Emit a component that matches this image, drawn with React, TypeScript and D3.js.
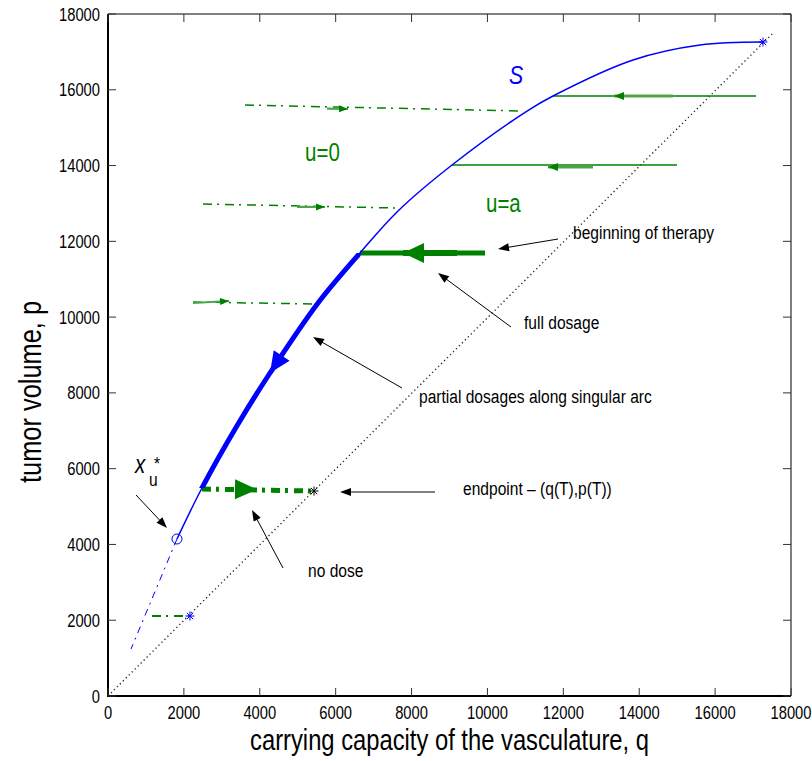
import { useEffect, useRef } from 'react'
import * as d3 from 'd3'

// singular arc S, (q, p)
const arcQ = [1818, 2477, 3400, 4269, 5535, 6641, 7643, 9066, 11043, 11728, 13836, 15602, 17262]
const arcP = [4144, 5490, 7133, 8525, 10372, 11692, 12800, 14014, 15439, 15836, 16786, 17182, 17261]
const thickFrom = 1
const thickTo = 5

// S continued below x_u*
const extQ = [1818, 606]
const extP = [4144, 1240]

// diagonal p = q
const diagQ = [0, 17530]
const diagP = [0, 17500]

// u = 0 trajectories (dash-dot)
const zeroQ0 = [3610, 2504, 2240]
const zeroP0 = [15598, 12985, 10399]
const zeroQ1 = [10860, 7600, 5403]
const zeroP1 = [15440, 12880, 10346]
const zeroShaftQ = [5772, 4981, 2240]
const zeroShaftP = [15500, 12910, 10372]
const zeroTipQ = [6325, 5719, 3189]
const zeroTipP = [15493, 12906, 10425]

// u = a trajectories (solid)
const aQ0 = [11728, 9066, 6641]
const aQ1 = [17078, 14996, 9936]
const aP = [15836, 14014, 11692]
const aTipQ = [13336, 11596, 7775]
const aTipP = [15836, 13962, 11692]
const aShaftQ = [14891, 12782, 9198]

// final no-dose piece and the one near the bottom
const endQ = [2477, 5430]
const endP = [5463, 5410]
const endTip = [3927, 5450]
const lowQ = [1160, 2161]
const lowP = [2111, 2111]

// markers
const xStar = [1818, 4144]
const blueStars = [[17262, 17261], [2161, 2111]]
const blackStar = [5430, 5410]

// arrow on S
const sArrowFrom = [4586, 9000]
const sArrowTo = [4269, 8525]

// annotations
const notes = ['beginning of therapy', 'full dosage', 'partial dosages along singular arc', 'endpoint – (q(T),p(T))', 'no dose']
const noteQ = [12255, 10964, 8196, 9356, 5271]
const noteP = [12061, 9686, 7733, 5305, 3141]
const pointFromQ = [11860, 10621, 7748, 8618, 4612, 738]
const pointFromP = [12061, 9739, 8129, 5384, 3378, 5305]
const pointToQ = [10278, 8697, 5403, 6114, 3795, 1555]
const pointToP = [11798, 11164, 9475, 5384, 4909, 4434]

const ticks = d3.range(0, 18001, 2000)

const GREEN = '#008000'
const LIGHT = '#4da64d'
const BLUE = '#0000ff'
const FONT = 'Liberation Sans, Arial, sans-serif'

export default function App() {
  const svgRef = useRef<SVGSVGElement>(null)

  useEffect(() => {
    const width = 812, height = 761
    const svg = d3.select(svgRef.current)
    svg.selectAll('*').remove()
    svg.attr('width', width).attr('height', height).style('background', '#fff')

    const x = d3.scaleLinear().domain([0, 18000]).range([108, 791])
    const y = d3.scaleLinear().domain([0, 18000]).range([696, 14])

    const ntext = (px: number, py: number, str: string, size: number, fill = '#000', anchor = 'start', rot = 0) =>
      svg.append('text')
        .attr('transform', `translate(${px},${py}) rotate(${rot}) scale(0.82,1)`)
        .attr('font-family', FONT)
        .attr('font-size', size)
        .attr('fill', fill)
        .attr('text-anchor', anchor)
        .text(str)

    const head = (x0: number, y0: number, x1: number, y1: number, len: number, half: number, fill: string) => {
      const d = Math.hypot(x1 - x0, y1 - y0)
      const ux = (x1 - x0) / d, uy = (y1 - y0) / d
      const bx = x1 - ux * len, by = y1 - uy * len
      svg.append('path')
        .attr('d', `M${x1},${y1}L${bx - uy * half},${by + ux * half}L${bx + uy * half},${by - ux * half}Z`)
        .attr('fill', fill)
    }

    const seg = (q0: number, p0: number, q1: number, p1: number, stroke: string, w: number, dash?: string) =>
      svg.append('line')
        .attr('x1', x(q0)).attr('y1', y(p0))
        .attr('x2', x(q1)).attr('y2', y(p1))
        .attr('stroke', stroke)
        .attr('stroke-width', w)
        .attr('stroke-dasharray', dash || null)

    // diagonal
    seg(diagQ[0], diagP[0], diagQ[1], diagP[1], '#222', 1.4, '1.2 3')

    // u = 0 trajectories
    zeroQ0.forEach((q, i) => {
      seg(q, zeroP0[i], zeroQ1[i], zeroP1[i], GREEN, 1.5, '9 5 2 6')
      seg(zeroShaftQ[i], zeroShaftP[i], zeroTipQ[i], zeroTipP[i], LIGHT, 2.2)
      head(x(zeroShaftQ[i]), y(zeroShaftP[i]), x(zeroTipQ[i]), y(zeroTipP[i]), 9, 3.5, GREEN)
    })

    // u = a trajectories
    aQ0.forEach((q, i) => {
      const thick = i === 2
      seg(q, aP[i], aQ1[i], aP[i], GREEN, thick ? 5 : 1.5)
      seg(aTipQ[i], aTipP[i], aShaftQ[i], aTipP[i], thick ? GREEN : LIGHT, thick ? 6 : 3)
      head(x(aShaftQ[i]), y(aTipP[i]), x(aTipQ[i]), y(aTipP[i]), thick ? 21 : 10, thick ? 10 : 4, GREEN)
    })

    // bottom pieces
    seg(endQ[0], endP[0], endQ[1], endP[1], GREEN, 5, '9 5 3 6')
    head(x(endQ[0]), y(endP[0]), x(endTip[0]), y(endTip[1]), 22, 10, GREEN)
    seg(lowQ[0], lowP[0], lowQ[1], lowP[1], GREEN, 2, '9 5 2 6')

    // singular arc, thick part = same path clipped to the partial-dosage span
    const pts = arcQ.map((q, i) => [x(q), y(arcP[i])] as [number, number])
    const line = d3.line().curve(d3.curveCatmullRom.alpha(0.5))
    svg.append('clipPath').attr('id', 'thick-span')
      .append('rect')
      .attr('x', 0).attr('width', x(arcQ[thickTo]) + 0.5)
      .attr('y', y(arcP[thickTo])).attr('height', y(arcP[thickFrom]) - y(arcP[thickTo]))
    svg.append('path').attr('d', line(pts)).attr('fill', 'none').attr('stroke', BLUE).attr('stroke-width', 1.5)
    svg.append('path').attr('d', line(pts)).attr('clip-path', 'url(#thick-span)')
      .attr('fill', 'none').attr('stroke', BLUE).attr('stroke-width', 5)
    head(x(sArrowFrom[0]), y(sArrowFrom[1]), x(sArrowTo[0]), y(sArrowTo[1]), 21, 9.5, BLUE)
    seg(extQ[0], extP[0], extQ[1], extP[1], BLUE, 1, '7 5 2 5')

    // markers
    svg.append('circle').attr('cx', x(xStar[0])).attr('cy', y(xStar[1])).attr('r', 5)
      .attr('fill', 'none').attr('stroke', BLUE).attr('stroke-width', 1)
    const star = (q: number, p: number, c: string) => {
      const cx = x(q), cy = y(p), r = 4.5
      ;[0, 45, 90, 135].forEach(a => {
        const t = a * Math.PI / 180
        svg.append('line')
          .attr('x1', cx - r * Math.cos(t)).attr('y1', cy - r * Math.sin(t))
          .attr('x2', cx + r * Math.cos(t)).attr('y2', cy + r * Math.sin(t))
          .attr('stroke', c).attr('stroke-width', 1)
      })
    }
    blueStars.forEach(s => star(s[0], s[1], BLUE))
    star(blackStar[0], blackStar[1], '#000')

    // axes box
    const [l, r] = x.range(), [b, t] = y.range()
    svg.append('line').attr('x1', l).attr('x2', r).attr('y1', t).attr('y2', t).attr('stroke', '#000').attr('stroke-width', 1)
    svg.append('line').attr('x1', r).attr('x2', r).attr('y1', t).attr('y2', b).attr('stroke', '#000').attr('stroke-width', 1)
    svg.append('line').attr('x1', l - 1).attr('x2', r).attr('y1', b).attr('y2', b).attr('stroke', '#000').attr('stroke-width', 2)
    svg.append('line').attr('x1', l).attr('x2', l).attr('y1', t).attr('y2', b + 1).attr('stroke', '#000').attr('stroke-width', 2)

    ticks.forEach(v => {
      const tx = x(v), ty = y(v)
      svg.append('line').attr('x1', tx).attr('x2', tx).attr('y1', b).attr('y2', b - 8).attr('stroke', '#333')
      svg.append('line').attr('x1', tx).attr('x2', tx).attr('y1', t).attr('y2', t + 8).attr('stroke', '#333')
      svg.append('line').attr('y1', ty).attr('y2', ty).attr('x1', l).attr('x2', l + 8).attr('stroke', '#333')
      svg.append('line').attr('y1', ty).attr('y2', ty).attr('x1', r).attr('x2', r - 8).attr('stroke', '#333')
      ntext(tx, 719, String(v), 18, '#000', 'middle')
      ntext(100, ty + 6.5, String(v), 18, '#000', 'end')
    })

    // axis titles
    ntext((l + r) / 2, 750, 'carrying capacity of the vasculature, q', 29, '#000', 'middle')
    ntext(41, (t + b) / 2 + 37, 'tumor volume, p', 31, '#000', 'middle', -90)

    // region labels
    svg.append('text')
      .attr('transform', `translate(${x(10568)},${y(16152)}) scale(0.82,1)`)
      .attr('font-family', FONT).attr('font-size', 26).attr('font-style', 'italic')
      .attr('fill', BLUE).text('S')
    ntext(x(5192), y(14120), 'u=0', 25, GREEN)
    ntext(x(9962), y(12774), 'u=a', 25, GREEN)

    // x_u*
    const xl = x(712), yl = y(5886)
    svg.append('text').attr('transform', `translate(${xl},${yl}) scale(0.82,1)`)
      .attr('font-family', FONT).attr('font-size', 25).attr('font-style', 'italic').text('x')
    ntext(xl + 14, yl + 13, 'u', 19)
    ntext(xl + 19, yl - 3, '*', 19)

    // annotations
    notes.forEach((n, i) => ntext(x(noteQ[i]), y(noteP[i]), n, 19))
    pointFromQ.forEach((q, i) => {
      const x0 = x(q), y0 = y(pointFromP[i]), x1 = x(pointToQ[i]), y1 = y(pointToP[i])
      const d = Math.hypot(x1 - x0, y1 - y0)
      svg.append('line').attr('x1', x0).attr('y1', y0)
        .attr('x2', x1 - (x1 - x0) / d * 6).attr('y2', y1 - (y1 - y0) / d * 6)
        .attr('stroke', '#000').attr('stroke-width', 1)
      head(x0, y0, x1, y1, 11, 4, '#000')
    })
  }, [])

  return (
    <div style={{ position: 'absolute', left: 0, top: 0 }}>
      <svg ref={svgRef} style={{ display: 'block' }} />
    </div>
  )
}
